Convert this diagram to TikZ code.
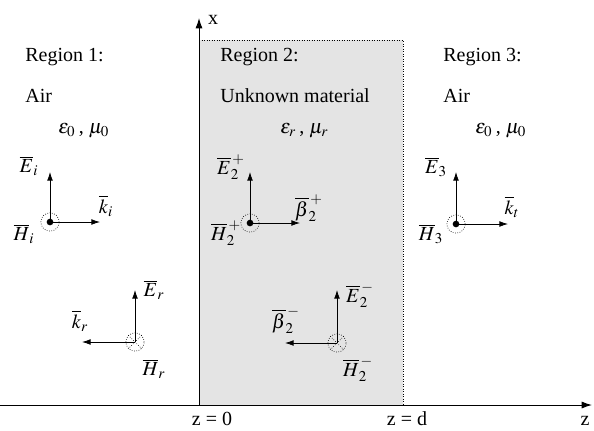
\documentclass[tikz,border=0pt]{standalone}
\usepackage{mathptmx}
\usepackage{fontspec}
\setmainfont{Liberation Serif}
\usetikzlibrary{calc, positioning, arrows.meta}
\definecolor{slabgray}{RGB}{228,228,228}

\begin{document}
\begin{tikzpicture}[x=0.6pt, y=-0.6pt, font=\fontsize{12}{14}\selectfont]
    % Estilos
    \tikzstyle{axis} = [draw, line width=0.6pt, -{Latex[length=2.2mm, width=1.5mm]}]
    \tikzstyle{field} = [draw, line width=0.45pt, -{Latex[length=1.8mm, width=1.2mm]}]
    \tikzstyle{ring} = [circle, draw, densely dotted, line width=0.4pt, minimum size=11pt, inner sep=0pt]
    \tikzstyle{lbl} = [inner sep=0pt]
    \tikzstyle{txt} = [anchor=west, inner sep=0pt]

    \useasboundingbox (0,0) rectangle (594,430);

    % Placa (regiao 2)
    \fill[slabgray] (199,40) rectangle (403,405);
    \draw[line width=0.5pt, densely dotted] (199,40) -- (403,40) -- (403,405);

    % Eixos
    \coordinate (origin) at (199,405);
    \coordinate (xtip) at (199,18);
    \coordinate (zstart) at (0,405);
    \coordinate (ztip) at (592,405);
    \path[axis] (origin) -- (xtip);
    \path[axis] (zstart) -- (ztip);
    \node[lbl] (xlabel) at (213,20) {x};
    \node[lbl] (zlabel) at (585,421) {z};
    \node[lbl] (z0) at (212,419) {z = 0};
    \node[lbl] (zd) at (407,419) {z = d};

    % Textos das regioes
    \node[txt] (reg1) at (25,57) {Region 1:};
    \node[txt] (air1) at (25,96) {Air};
    \node[txt] (mat1) at (58,131) {$\varepsilon_0$\,,\ $\mu_0$};
    \node[txt] (reg2) at (220,57) {Region 2:};
    \node[txt] (unk) at (220,96) {Unknown material};
    \node[txt] (mat2) at (280,131) {$\varepsilon_r$\,,\ $\mu_r$};
    \node[txt] (reg3) at (443,57) {Region 3:};
    \node[txt] (air3) at (443,96) {Air};
    \node[txt] (mat3) at (475,131) {$\varepsilon_0$\,,\ $\mu_0$};

    % Onda incidente
    \node[ring] (ci) at (50,222) {};
    \fill (ci.center) circle (2pt);
    \coordinate (Eitip) at (50,172);
    \coordinate (kitip) at (100,222);
    \path[field] (ci.center) -- (Eitip);
    \path[field] (ci.center) -- (kitip);
    \node[lbl] (Ei) at (29,166) {$\overline{E}_i$};
    \node[lbl] (ki) at (106,206) {$\overline{k}_i$};
    \node[lbl] (Hi) at (24,234) {$\overline{H}_i$};

    % Onda refletida
    \node[ring] (cr) at (135,342) {};
    \draw[densely dotted, line width=0.4pt] (cr.45) -- (cr.225) (cr.135) -- (cr.315);
    \coordinate (Ertip) at (135,290);
    \coordinate (krtip) at (82,342);
    \path[field] (cr.center) -- (Ertip);
    \path[field] (cr.center) -- (krtip);
    \node[lbl] (Er) at (154,290) {$\overline{E}_r$};
    \node[lbl] (kr) at (80,321) {$\overline{k}_r$};
    \node[lbl] (Hr) at (154,369) {$\overline{H}_r$};

    % Onda progressiva na placa
    \node[ring] (cp) at (250,223) {};
    \fill (cp.center) circle (2pt);
    \coordinate (Eptip) at (250,172);
    \coordinate (bptip) at (300,223);
    \path[field] (cp.center) -- (Eptip);
    \path[field] (cp.center) -- (bptip);
    \node[lbl] (Ep) at (231,167) {$\overline{E}_2^{\,+}$};
    \node[lbl] (bp) at (309,208) {$\overline{\beta}_2^{\,+}$};
    \node[lbl] (Hp) at (226,233) {$\overline{H}_2^{\,+}$};

    % Onda regressiva na placa
    \node[ring] (cm) at (337,343) {};
    \draw[densely dotted, line width=0.4pt] (cm.45) -- (cm.225) (cm.135) -- (cm.315);
    \coordinate (Emtip) at (337,290);
    \coordinate (bmtip) at (285,343);
    \path[field] (cm.center) -- (Emtip);
    \path[field] (cm.center) -- (bmtip);
    \node[lbl] (Em) at (360,295) {$\overline{E}_2^{\,-}$};
    \node[lbl] (bm) at (286,320) {$\overline{\beta}_2^{\,-}$};
    \node[lbl] (Hm) at (358,369) {$\overline{H}_2^{\,-}$};

    % Onda transmitida
    \node[ring] (ct) at (456,224) {};
    \fill (ct.center) circle (2pt);
    \coordinate (Ettip) at (456,172);
    \coordinate (kttip) at (508,224);
    \path[field] (ct.center) -- (Ettip);
    \path[field] (ct.center) -- (kttip);
    \node[lbl] (E3) at (436,167) {$\overline{E}_3$};
    \node[lbl] (kt) at (512,207) {$\overline{k}_t$};
    \node[lbl] (H3) at (431,234) {$\overline{H}_3$};
\end{tikzpicture}
\end{document}
